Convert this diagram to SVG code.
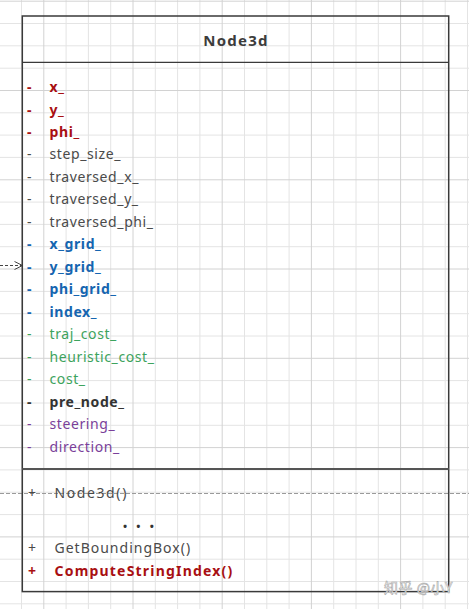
<svg xmlns="http://www.w3.org/2000/svg" width="469" height="609" viewBox="0 0 469 609">
  <style>
    .minor { stroke: #e4e4e4; stroke-width: 1; fill: none; }
    .major { stroke: #d2d2d2; stroke-width: 1; fill: none; }
    .box { fill: none; stroke: #3a3a3a; stroke-width: 1.5; }
    .sep { stroke: #3a3a3a; stroke-width: 1.2; }
    .sep2 { stroke: #555; stroke-width: 2.2; }
    text { font-family: "Noto Sans", "Open Sans", "DejaVu Sans", sans-serif; font-size: 14px; letter-spacing: 0.6px; }
    .title { font-size: 15px; font-weight: bold; fill: #3c3c3c; letter-spacing: 1.2px; }
    .b { font-weight: bold; }
    .red { fill: #a80f12; }
    .gray { fill: #4a4a4a; }
    .blue { fill: #1565b0; }
    .green { fill: #3da35d; }
    .dark { fill: #333333; }
    .purple { fill: #7a3f9a; }
    .m { letter-spacing: 1px; }
    .mark { font-size: 14px; fill: #ffffff; stroke: #a8a8a8; stroke-width: 0.6; letter-spacing: 0.5px; font-family: "Noto Sans CJK SC", "Noto Sans", sans-serif; }
    .conn { stroke: #444; stroke-width: 1; fill: none; stroke-dasharray: 3 2; }
    .guide { stroke: #9a9a9a; stroke-width: 1; fill: none; stroke-dasharray: 4 2; }
  </style>
  <defs>
    <marker id="open" viewBox="0 0 10 10" refX="9" refY="5" markerWidth="10" markerHeight="10" markerUnits="userSpaceOnUse" orient="auto">
      <path d="M1,1 L9,5 L1,9" fill="none" stroke="#444" stroke-width="1"/>
    </marker>
  </defs>

  <rect width="469" height="609" fill="#ffffff"/>

  <!-- background grid -->
  <path class="minor" d="M21.5,0V609M66.1,0V609M88.4,0V609M110.7,0V609M155.3,0V609M177.6,0V609M199.9,0V609M244.5,0V609M266.8,0V609M289.1,0V609M333.7,0V609M356,0V609M378.3,0V609M422.9,0V609M445.2,0V609M467.5,0V609
    M0,23.5H469M0,45.8H469M0,68.2H469M0,112.8H469M0,135.1H469M0,157.4H469M0,202.1H469M0,224.4H469M0,246.7H469M0,291.4H469M0,313.7H469M0,336H469M0,380.6H469M0,403H469M0,425.3H469M0,469.9H469M0,492.2H469M0,514.6H469M0,559.2H469M0,581.5H469M0,603.8H469"/>
  <path class="major" d="M43.8,0V609M133,0V609M222.2,0V609M311.4,0V609M400.6,0V609
    M0,1.2H469M0,90.5H469M0,179.8H469M0,269H469M0,358.3H469M0,447.6H469M0,536.9H469"/>

  <!-- connectors -->
  <g id="connectors">
    <path class="guide" d="M0,493.5H469"/>
    <path class="conn" d="M0,265.5H22.5" marker-end="url(#open)"/>
  </g>

  <!-- class Node3d -->
  <g id="node3d">
    <rect class="box" x="22.3" y="16" width="426.4" height="575.6"/>
    <line class="sep" x1="22.3" y1="62.3" x2="448.7" y2="62.3"/>
    <line class="sep2" x1="22.3" y1="469" x2="448.7" y2="469"/>
    <text class="title" x="236" y="46" text-anchor="middle">Node3d</text>

    <g id="attributes">
      <text class="red b" x="27" y="92">-</text><text class="red b" x="49.5" y="92">x_</text>
      <text class="red b" x="27" y="114.5">-</text><text class="red b" x="49.5" y="114.5">y_</text>
      <text class="red b" x="27" y="137">-</text><text class="red b" x="49.5" y="137">phi_</text>
      <text class="gray" x="27" y="159.4">-</text><text class="gray" x="49.5" y="159.4">step_size_</text>
      <text class="gray" x="27" y="181.9">-</text><text class="gray" x="49.5" y="181.9">traversed_x_</text>
      <text class="gray" x="27" y="204.4">-</text><text class="gray" x="49.5" y="204.4">traversed_y_</text>
      <text class="gray" x="27" y="226.9">-</text><text class="gray" x="49.5" y="226.9">traversed_phi_</text>
      <text class="blue b" x="27" y="249.4">-</text><text class="blue b" x="49.5" y="249.4">x_grid_</text>
      <text class="blue b" x="27" y="271.8">-</text><text class="blue b" x="49.5" y="271.8">y_grid_</text>
      <text class="blue b" x="27" y="294.3">-</text><text class="blue b" x="49.5" y="294.3">phi_grid_</text>
      <text class="blue b" x="27" y="316.8">-</text><text class="blue b" x="49.5" y="316.8">index_</text>
      <text class="green" x="27" y="339.3">-</text><text class="green" x="49.5" y="339.3">traj_cost_</text>
      <text class="green" x="27" y="361.8">-</text><text class="green" x="49.5" y="361.8">heuristic_cost_</text>
      <text class="green" x="27" y="384.2">-</text><text class="green" x="49.5" y="384.2">cost_</text>
      <text class="dark b" x="27" y="406.7">-</text><text class="dark b" x="49.5" y="406.7">pre_node_</text>
      <text class="purple" x="27" y="429.2">-</text><text class="purple" x="49.5" y="429.2">steering_</text>
      <text class="purple" x="27" y="451.7">-</text><text class="purple" x="49.5" y="451.7">direction_</text>
    </g>

    <g id="methods">
      <text class="gray" x="28" y="498">+</text><text class="gray m" x="54.5" y="498" style="letter-spacing:1.6px">Node3d()</text>
      <text class="dark b" x="123" y="530" style="font-size:11px;letter-spacing:9.2px">•••</text>
      <text class="gray" x="28" y="553.3">+</text><text class="gray m" x="54.5" y="553.3">GetBoundingBox()</text>
      <text class="red b" x="28" y="576">+</text><text class="red b m" x="54.5" y="576" style="letter-spacing:1.2px">ComputeStringIndex()</text>
    </g>
  </g>

  <text class="mark" x="384" y="593">知乎 @小Y</text>
</svg>
